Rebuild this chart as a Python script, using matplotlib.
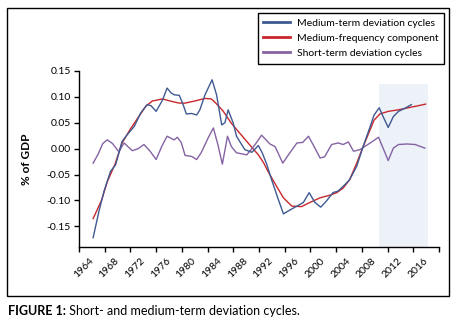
import matplotlib
matplotlib.use("Agg")
import matplotlib.pyplot as plt
from matplotlib.lines import Line2D
from matplotlib.patches import Rectangle

plt.rcParams['font.family'] = ['Lato', 'DejaVu Sans']
plt.rcParams['axes.unicode_minus'] = False

# 중기 편차 사이클 (파란선)
mid_years = [1964.2, 1965.1, 1965.9, 1966.9, 1967.7, 1968.7, 1969.5, 1970.6, 1971.6, 1972.6,
             1973.2, 1974.0, 1975.0, 1975.7, 1976.3, 1976.8, 1977.6, 1978.2, 1978.7, 1979.5,
             1980.3, 1980.8, 1981.6, 1982.7, 1983.4, 1984.2, 1984.7, 1985.2, 1986.0, 1986.5,
             1987.8, 1988.9, 1989.9, 1990.5, 1991.2, 1991.9, 1993.0, 1993.8, 1994.6, 1995.9,
             1996.9, 1997.8, 1998.7, 1999.6, 2000.5, 2001.5, 2002.3, 2003.4, 2004.1, 2005.2,
             2006.2, 2007.3, 2007.9, 2008.7, 2009.3, 2010.1, 2010.9, 2011.7, 2012.7, 2013.7]
mid_vals = [-0.172, -0.121, -0.082, -0.044, -0.031, 0.014, 0.027, 0.043, 0.069, 0.085,
            0.083, 0.072, 0.094, 0.117, 0.108, 0.104, 0.103, 0.085, 0.067, 0.068,
            0.065, 0.075, 0.104, 0.133, 0.104, 0.046, 0.050, 0.075, 0.049, 0.024,
            -0.002, -0.007, 0.006, -0.008, -0.030, -0.058, -0.098, -0.126, -0.120, -0.111,
            -0.104, -0.085, -0.104, -0.113, -0.101, -0.085, -0.082, -0.069, -0.060, -0.034,
            0.004, 0.043, 0.065, 0.079, 0.062, 0.041, 0.062, 0.072, 0.078, 0.085]

# 중기 주파수 성분 (빨간선)
freq_years = [1964.2, 1965.5, 1966.4, 1967.6, 1968.7, 1970.0, 1971.3, 1972.4, 1973.4, 1975.0,
              1976.5, 1977.6, 1978.5, 1980.0, 1981.6, 1982.6, 1983.2, 1984.4, 1985.7, 1987.0,
              1988.3, 1989.9, 1990.7, 1991.4, 1992.7, 1993.8, 1995.1, 1996.6, 1997.9, 1999.5,
              2001.0, 2002.1, 2003.1, 2004.1, 2005.2, 2006.2, 2007.3, 2007.9, 2008.8, 2010.1,
              2011.7, 2013.2, 2014.8, 2015.9]
freq_vals = [-0.135, -0.100, -0.064, -0.030, 0.011, 0.038, 0.062, 0.082, 0.092, 0.096,
             0.091, 0.088, 0.088, 0.092, 0.097, 0.096, 0.089, 0.073, 0.049, 0.030,
             0.011, -0.012, -0.027, -0.044, -0.072, -0.095, -0.111, -0.112, -0.104, -0.095,
             -0.090, -0.085, -0.076, -0.060, -0.028, 0.004, 0.037, 0.055, 0.067, 0.072,
             0.075, 0.079, 0.083, 0.086]

# 단기 편차 사이클 (보라선)
short_years = [1964.2, 1965.0, 1965.7, 1966.4, 1967.2, 1968.2, 1969.0, 1969.6, 1970.3, 1971.2,
               1972.1, 1973.0, 1974.0, 1974.9, 1975.7, 1976.8, 1977.3, 1977.9, 1978.5, 1979.5,
               1980.3, 1981.0, 1982.1, 1982.9, 1983.6, 1984.3, 1985.1, 1985.7, 1986.5, 1988.1,
               1989.4, 1990.4, 1991.7, 1992.5, 1993.7, 1994.8, 1995.9, 1996.8, 1997.7, 1998.4,
               1999.5, 2000.2, 2001.3, 2002.3, 2003.1, 2003.9, 2004.7, 2005.7, 2007.3, 2008.6,
               2009.3, 2010.1, 2010.9, 2011.7, 2013.0, 2014.3, 2015.8]
short_vals = [-0.028, -0.010, 0.010, 0.017, 0.010, -0.006, 0.011, 0.004, -0.004, 0.000,
              0.008, -0.004, -0.021, 0.005, 0.024, 0.017, 0.022, 0.012, -0.013, -0.015,
              -0.021, -0.008, 0.021, 0.040, 0.008, -0.030, 0.024, 0.004, -0.008, -0.012,
              0.008, 0.026, 0.009, 0.004, -0.028, -0.008, 0.011, 0.012, 0.024, 0.008,
              -0.018, -0.016, 0.008, 0.011, 0.008, 0.013, -0.005, -0.002, 0.011, 0.022,
              0.001, -0.023, 0.001, 0.008, 0.009, 0.008, 0.001]

year_labels = list(range(1964, 2017, 4))
y_ticks = [-0.15, -0.10, -0.05, 0.00, 0.05, 0.10, 0.15]
shade_x = (2008.7, 2016.3)
shade_top = 0.125

c_mid = '#3f5a92'
c_freq = '#c8282c'
c_short = '#8563a3'

fig = plt.figure(figsize=(4.55, 3.2), dpi=100)
ax = fig.add_axes([79 / 455, 1 - 247 / 320, 360 / 455, 176 / 320])

ax.set_xlim(1962, 2018)
ax.set_ylim(-0.19, 0.15)

# 음영 구간
ax.add_patch(Rectangle((shade_x[0], -0.19), shade_x[1] - shade_x[0], shade_top + 0.19,
                       facecolor='#edf1f8', edgecolor='none', zorder=0))

ax.plot(mid_years, mid_vals, color=c_mid, lw=1.0, zorder=3)
ax.plot(freq_years, freq_vals, color=c_freq, lw=1.0, zorder=2)
ax.plot(short_years, short_vals, color=c_short, lw=1.0, zorder=2)

ax.spines['top'].set_visible(False)
ax.spines['right'].set_visible(False)
ax.spines['left'].set_linewidth(1.0)
ax.spines['bottom'].set_linewidth(1.0)

ax.set_yticks(y_ticks)
ax.set_yticklabels([f"{v:.2f}" for v in y_ticks], fontsize=7.5)
ax.tick_params(axis='y', direction='out', length=3.5, width=1.0, pad=2.5)

# x축: 눈금은 구간 경계, 라벨은 가운데
ax.set_xticks([y - 2 for y in year_labels] + [year_labels[-1] + 2])
ax.set_xticklabels([])
ax.tick_params(axis='x', which='major', direction='out', length=3.5, width=1.0)
ax.set_xticks(year_labels, minor=True)
ax.set_xticklabels([str(y) for y in year_labels], minor=True, rotation=45,
                   ha='right', va='center', rotation_mode='anchor', fontsize=7.5)
ax.tick_params(axis='x', which='minor', length=0, pad=9)

ax.set_ylabel('% of GDP', fontsize=8.5, fontweight='bold')
ax.yaxis.set_label_coords(-0.13, 0.5)

handles = [Line2D([], [], color=c_mid, lw=2),
           Line2D([], [], color=c_freq, lw=2),
           Line2D([], [], color=c_short, lw=2)]
labels = ['Medium-term deviation cycles', 'Medium-frequency component',
          'Short-term deviation cycles']
leg = fig.legend(handles, labels, loc='upper right',
                 bbox_to_anchor=(444 / 455, 1 - 13 / 320), fontsize=7.5,
                 frameon=True, fancybox=False, edgecolor='black', framealpha=1,
                 handlelength=2.6, handletextpad=0.6, labelspacing=0.55,
                 borderpad=0.55, borderaxespad=0)
leg.get_frame().set_linewidth(1.0)

# 바깥 테두리
fig.add_artist(Rectangle((7 / 455, 1 - 296 / 320), 442 / 455, 288 / 320,
                         transform=fig.transFigure, fill=False,
                         edgecolor='black', lw=1.0))

# 캡션
t1 = fig.text(8 / 455, 1 - 311 / 320, 'FIGURE 1:', fontsize=9,
              fontweight='bold', va='center', ha='left')
ax.annotate(' Short- and medium-term deviation cycles.', xy=(1, 0.5),
            xycoords=t1, va='center', ha='left', fontsize=9,
            annotation_clip=False)

fig.savefig('out.png', dpi=100)
